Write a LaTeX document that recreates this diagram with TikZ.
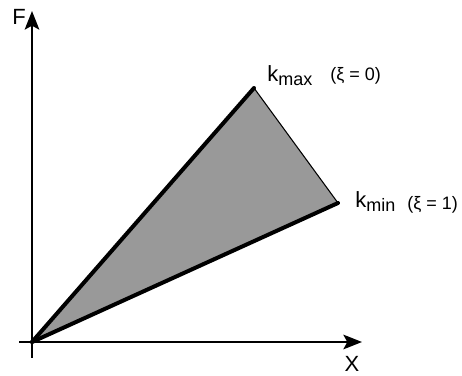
\documentclass[tikz,border=0pt]{standalone}
\usepackage{fontspec}
\setmainfont{Liberation Sans}
\usetikzlibrary{arrows.meta,positioning}

\newcommand{\subtxt}[1]{{\fontsize{13.5}{14}\selectfont\raisebox{-3pt}{#1}}}

\begin{document}
\begin{tikzpicture}[
x=0.75pt, y=0.75pt,
axis/.style={line width=1.5pt, -{Stealth[length=14pt, width=11pt, inset=3pt]}},
edge/.style={line width=3pt, line cap=round},
label/.style={font=\fontsize{16.5}{18}\selectfont, inner sep=0pt},
note/.style={font=\fontsize{13.5}{15}\selectfont, inner sep=0pt}
]
\useasboundingbox (0,0) rectangle (462,376);

% points
\coordinate (o) at (32,34);
\coordinate (kmax) at (254,288);
\coordinate (kmin) at (338,173);
\coordinate (ybot) at (32,18);
\coordinate (ytop) at (32,365);
\coordinate (xleft) at (19,34);
\coordinate (xright) at (362,34);

% stiffness range
\fill[black!40] (o) -- (kmax) -- (kmin) -- cycle;
\draw[line width=0.8pt] (kmax) -- (kmin);
\draw[edge] (o) -- (kmax);
\draw[edge] (o) -- (kmin);

% axes
\draw[axis] (ybot) -- (ytop);
\draw[axis] (xleft) -- (xright);

\node[label] (flab) at (19,359) {F};
\node[label] (xlab) at (352,12) {X};

\node[label, anchor=base west] (kmaxlab) at (267,295) {k\subtxt{max}};
\node[note, anchor=west] (ximax) at (330,300) {(ξ = 0)};
\node[label, anchor=base west] (kminlab) at (355,168) {k\subtxt{min}};
\node[note, anchor=west] (ximin) at (407,171) {(ξ = 1)};
\end{tikzpicture}
\end{document}
